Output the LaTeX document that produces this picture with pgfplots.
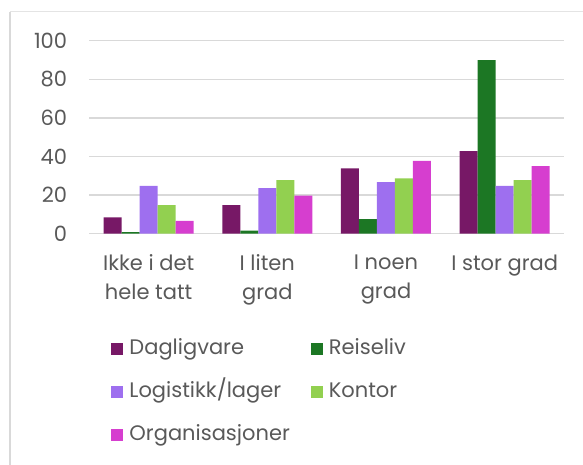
\documentclass[border=0pt]{standalone}
\usepackage{fontspec}
\setmainfont{Poppins}
\usepackage{pgfplots}
\pgfplotsset{compat=1.18}
\definecolor{txt}{HTML}{595959}
\definecolor{grd}{HTML}{D9D9D9}
\definecolor{cDag}{HTML}{771866}
\definecolor{cRei}{HTML}{1C7724}
\definecolor{cLog}{HTML}{9E6FEF}
\definecolor{cKon}{HTML}{92D050}
\definecolor{cOrg}{HTML}{D63ECF}
\begin{document}
\begin{tikzpicture}[x=1pt,y=1pt]
\useasboundingbox (0,0) rectangle (583,464);
\draw[grd, line width=2pt] (10,-5) -- (10,452);
\draw[grd!70, line width=1pt] (10,452) -- (590,452);
\begin{axis}[
  at={(89.3pt,230.3pt)}, anchor=south west,
  scale only axis, width=474.7pt, height=193pt,
  ybar=0pt, bar width=18pt,
  xmin=-0.5, xmax=3.5, ymin=0, ymax=100,
  xtick={0,1,2,3},
  xticklabels={{Ikke i det\\hele tatt},{I liten\\grad},{I noen\\grad},{I stor grad}},
  ytick={0,20,40,60,80,100},
  ymajorgrids, grid style={grd, line width=1.5pt},
  axis line style={draw=none},
  major tick length=0pt,
  tick label style={font=\fontsize{21}{28.5}\selectfont, text=txt},
  /pgf/number format/assume math mode=true,
  yticklabel style={anchor=east, inner sep=0pt, xshift=-22pt},
  xticklabel style={align=center, anchor=north, inner sep=0pt, yshift=-21pt},
  legend style={at={(0.040,-0.52)}, anchor=north west, draw=none, fill=none,
    font=\fontsize{21}{25}\selectfont, text=txt,
    nodes={text height=16pt, text depth=5pt, inner ysep=2pt},
    legend columns=2, column sep=4pt, row sep=18pt,
    /tikz/every odd column/.append style={column sep=4pt},
    /tikz/every even column/.append style={column sep=19pt}},
  legend cell align=left,
  legend image code/.code={\fill[#1] (0pt,-6pt) rectangle (12pt,6pt);},
]
\addplot[fill=cDag, draw=none] coordinates {(0,8.5) (1,14.8) (2,33.9) (3,42.8)};
\addplot[fill=cRei, draw=none] coordinates {(0,0.8) (1,1.6) (2,7.5) (3,89.9)};
\addplot[fill=cLog, draw=none] coordinates {(0,24.8) (1,23.6) (2,26.7) (3,24.8)};
\addplot[fill=cKon, draw=none] coordinates {(0,14.8) (1,27.7) (2,28.7) (3,27.7)};
\addplot[fill=cOrg, draw=none] coordinates {(0,6.6) (1,19.7) (2,37.7) (3,35.0)};
\legend{Dagligvare,Reiseliv,Logistikk/lager,Kontor,Organisasjoner}
\end{axis}
\end{tikzpicture}
\end{document}
